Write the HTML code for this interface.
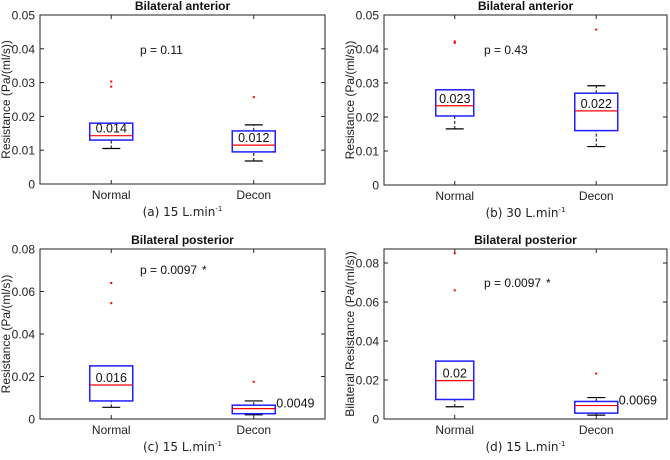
<!DOCTYPE html>
<html><head><meta charset="utf-8"><style>
body{margin:0;background:#fff;width:670px;height:455px;overflow:hidden}
svg{font-family:"Liberation Sans",sans-serif}
text{white-space:pre}
</style></head><body>
<svg width="670" height="455" id="fig"></svg>
<script>
const categories=["Normal","Decon"];
// per panel: [whiskerLow, q1, median, q3, whiskerHigh]
const statsA=[[0.0105,0.013,0.0143,0.018,0.018],[0.0068,0.0095,0.0115,0.0157,0.0175]];
const outA=[[0.0303,0.0288],[0.0257]];
const statsB=[[0.0165,0.0203,0.0233,0.028,0.028],[0.0113,0.016,0.0218,0.027,0.0292]];
const outB=[[0.0422,0.0418],[0.0457]];
const statsC=[[0.0055,0.0085,0.016,0.025,0.025],[0.002,0.0025,0.0049,0.0065,0.0085]];
const outC=[[0.064,0.0545],[0.0175]];
const statsD=[[0.0063,0.010,0.0197,0.0297,0.0297],[0.002,0.003,0.0069,0.009,0.011]];
const outD=[[0.085,0.066],[0.0233]];
const medLabelsA=["0.014","0.012"],medLabelsB=["0.023","0.022"],medLabelsC=["0.016","0.0049"],medLabelsD=["0.02","0.0069"];
const ticks05=[0,0.01,0.02,0.03,0.04,0.05],ticks08=[0,0.02,0.04,0.06,0.08];
const tickLab05=["0","0.01","0.02","0.03","0.04","0.05"],tickLab08=["0","0.02","0.04","0.06","0.08"];
const NS="http://www.w3.org/2000/svg",svg=document.getElementById('fig');
function el(t,a,p){const e=document.createElementNS(NS,t);for(const k in a)e.setAttribute(k,a[k]);(p||svg).appendChild(e);return e}
function txt(s,a,p){const e=el('text',a,p);e.textContent=s;return e}
function panel(P){
 const g=el('g',{});
 
 
 const y=v=>P.y0-(v/P.ymax)*(P.y0-P.y1);
 const xs=[P.x0+(P.x1-P.x0)*0.25,P.x0+(P.x1-P.x0)*0.75];
 el('rect',{x:P.x0,y:P.y1,width:P.x1-P.x0,height:P.y0-P.y1,fill:'none',stroke:'#222','stroke-width':1},g);
 P.ticks.forEach((t,i)=>{const yy=y(t);
  el('line',{x1:P.x0,x2:P.x0+4,y1:yy,y2:yy,stroke:'#222'},g);
  el('line',{x1:P.x1,x2:P.x1-4,y1:yy,y2:yy,stroke:'#222'},g);
  const tl=txt(P.tickLabels[i],{x:P.x0-5,y:yy+4.5,'font-size':12,'text-anchor':'end',fill:'#222'},g);
  });
 categories.forEach((c,i)=>{const x=xs[i];const s=P.stats[i];const hw=P.bw[i]/2;
  el('line',{x1:x,x2:x,y1:P.y0,y2:P.y0-4,stroke:'#222'},g);el('line',{x1:x,x2:x,y1:P.y1,y2:P.y1+4,stroke:'#222'},g);
  const xl=txt(c,{x:x,y:P.y0+15,'font-size':12,'text-anchor':'middle',fill:'#222'},g);
  
  el('line',{x1:x,x2:x,y1:y(s[0]),y2:y(s[1]),stroke:'#000','stroke-dasharray':'3,2'},g);
  el('line',{x1:x,x2:x,y1:y(s[3]),y2:y(s[4]),stroke:'#000','stroke-dasharray':'3,2'},g);
  el('line',{x1:x-9,x2:x+9,y1:y(s[0]),y2:y(s[0]),stroke:'#000','stroke-width':1.2},g);
  if(s[4]>s[3])el('line',{x1:x-9,x2:x+9,y1:y(s[4]),y2:y(s[4]),stroke:'#000','stroke-width':1.2},g);
  const b=el('rect',{x:x-hw,y:y(s[3]),width:2*hw,height:y(s[1])-y(s[3]),fill:'none',stroke:'#1f1fff','stroke-width':1.5},g);
  
  el('line',{x1:x-hw,x2:x+hw,y1:y(s[2]),y2:y(s[2]),stroke:'#f00','stroke-width':1.2},g);
  P.out[i].forEach(o=>{const d=el('rect',{x:x-1,y:y(o)-1,width:2,height:2,fill:'#f00'},g);});
  const ml=P.medLabels[i];
  const lab=P.labelRight&&P.labelRight[i]?txt(ml,{x:x+hw+1,y:y(s[2])-1,'font-size':12.5,fill:'#111'},g):txt(ml,{x:x,y:y(s[2])-3,'font-size':12.5,'text-anchor':'middle',fill:'#111'},g);
  
 });
 const t=txt(P.title,{x:(P.x0+P.x1)/2,y:P.y1-5,'font-size':12,'font-weight':'bold','text-anchor':'middle',fill:'#111'},g);
 
 const yl=txt(P.ylabel,{x:0,y:0,'font-size':12,'text-anchor':'middle',fill:'#222',transform:`translate(${P.x0-30},${(P.y0+P.y1)/2}) rotate(-90)`},g);
 
 const p=txt(P.p,{x:P.px,y:P.py,'font-size':12,fill:'#111'},g);
 if(P.star){const st=txt('*',{x:P.px+P.star,y:P.py,'font-size':12,fill:'#111'},g);}
 const cap=el('text',{x:(P.x0+P.x1)/2,y:P.y0+32,'font-size':12,'text-anchor':'middle',fill:'#222','font-family':'DejaVu Sans, sans-serif'},g);
 cap.textContent=P.cap+' L.min';const sp=el('tspan',{dy:-5,'font-size':7},cap);sp.textContent='-1';
 
}
panel({name:'panel-a',x0:40,x1:325,y0:184,y1:15,ymax:0.05,ticks:ticks05,tickLabels:tickLab05,stats:statsA,out:outA,medLabels:medLabelsA,bw:[43,43],title:'Bilateral anterior',ylabel:'Resistance (Pa/(ml/s))',p:'p = 0.11',px:140,py:54,cap:'(a) 15'});
panel({name:'panel-b',x0:384,x1:667,y0:185,y1:15,ymax:0.05,ticks:ticks05,tickLabels:tickLab05,stats:statsB,out:outB,medLabels:medLabelsB,bw:[38,43],title:'Bilateral anterior',ylabel:'Resistance (Pa/(ml/s))',p:'p = 0.43',px:484,py:54,cap:'(b) 30'});
panel({name:'panel-c',x0:40,x1:325,y0:419,y1:249,ymax:0.08,ticks:ticks08,tickLabels:tickLab08,stats:statsC,out:outC,medLabels:medLabelsC,bw:[43,43],labelRight:[false,true],title:'Bilateral posterior',ylabel:'Resistance (Pa/(ml/s))',p:'p = 0.0097',px:140,py:274,star:62,cap:'(c) 15'});
panel({name:'panel-d',x0:384,x1:667,y0:419,y1:249,ymax:0.0872,ticks:ticks08,tickLabels:tickLab08,stats:statsD,out:outD,medLabels:medLabelsD,bw:[38,43],labelRight:[false,true],title:'Bilateral posterior',ylabel:'Bilateral Resistance (Pa/(ml/s))',p:'p = 0.0097',px:484,py:287,star:62,cap:'(d) 15'});
</script>
</body></html>
